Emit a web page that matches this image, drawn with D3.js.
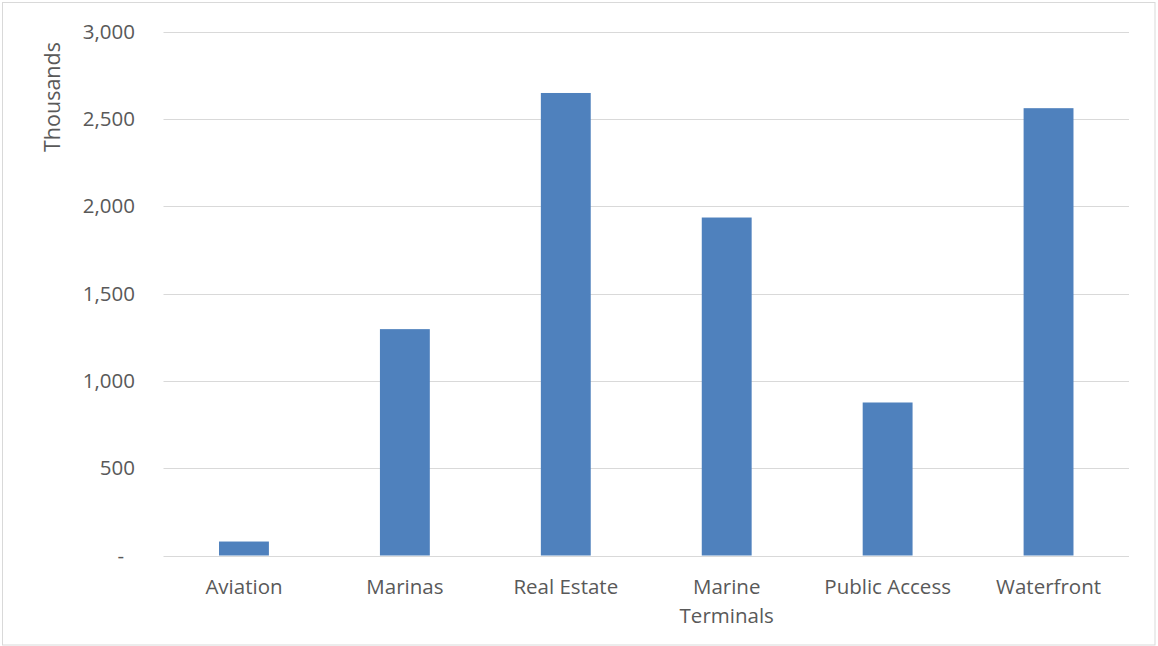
<!DOCTYPE html>
<html>
<head>
<meta charset="utf-8">
<script src="https://cdn.jsdelivr.net/npm/d3@7"></script>
<style>
  html, body { margin: 0; padding: 0; background: #fff; }
  svg { display: block; }
  text { font-family: "Open Sans", "Liberation Sans", sans-serif; fill: #595959; }
</style>
</head>
<body>
<svg id="chart" width="1158" height="646"></svg>
<script>
const categories = [["Aviation"], ["Marinas"], ["Real Estate"], ["Marine", "Terminals"], ["Public Access"], ["Waterfront"]];
const values = [80, 1296, 2648, 1935, 876, 2561];
const yTicks = [0, 500, 1000, 1500, 2000, 2500, 3000];
const yTitle = "Thousands";

const svg = d3.select("#chart");
const W = 1158, H = 646;
const margin = { left: 163.5, right: 29, top: 31.5, bottom: 90.5 };
const FS = 20.5;

svg.append("rect")
  .attr("x", 2.5).attr("y", 2.5)
  .attr("width", 1152.5).attr("height", 642.5)
  .attr("fill", "#fff").attr("stroke", "#d9d9d9").attr("stroke-width", 1);

const keys = categories.map(c => c.join(" "));
const x = d3.scaleBand().domain(keys).range([margin.left, W - margin.right]).padding(0);
const y = d3.scaleLinear().domain([0, 3000]).range([H - margin.bottom, margin.top]);

const fmt = d => d === 0 ? "-" : d3.format(",")(d);

// grid lines
svg.append("g").selectAll("line").data(yTicks).join("line")
  .attr("x1", margin.left).attr("x2", W - margin.right)
  .attr("y1", d => Math.round(y(d)) + 0.5).attr("y2", d => Math.round(y(d)) + 0.5)
  .attr("stroke", "#d9d9d9").attr("stroke-width", 1.2);

// y axis labels
const yAxis = d3.axisLeft(y).tickValues(yTicks).tickFormat(fmt).tickSize(0).tickPadding(0);
const ga = svg.append("g").attr("transform", `translate(${135},0)`).call(yAxis);
ga.select(".domain").remove();
ga.attr("font-size", null).attr("font-family", null);
ga.selectAll("text").attr("font-size", FS).attr("fill", "#595959")
  .style("font-family", '"Open Sans", sans-serif')
  .attr("dx", d => d === 0 ? -11 : 0);

// bars
const barW = x.bandwidth() * 0.31;
svg.append("g").selectAll("rect").data(values).join("rect")
  .attr("x", (d, i) => x(keys[i]) + x.bandwidth() / 2 - barW / 2)
  .attr("width", barW)
  .attr("y", d => y(d))
  .attr("height", d => y(0) - y(d))
  .attr("fill", "#4f81bd");

// category labels
const gx = svg.append("g");
categories.forEach((lines, i) => {
  const t = gx.append("text")
    .attr("x", x(keys[i]) + x.bandwidth() / 2)
    .attr("y", 594)
    .attr("text-anchor", "middle")
    .attr("font-size", FS);
  lines.forEach((ln, j) => {
    t.append("tspan").attr("x", x(keys[i]) + x.bandwidth() / 2).attr("dy", j === 0 ? 0 : 29).text(ln);
  });
});

// y title
svg.append("text")
  .attr("transform", `translate(60,97) rotate(-90)`)
  .attr("text-anchor", "middle")
  .attr("font-size", 21.5)
  .text(yTitle);
</script>
</body>
</html>
